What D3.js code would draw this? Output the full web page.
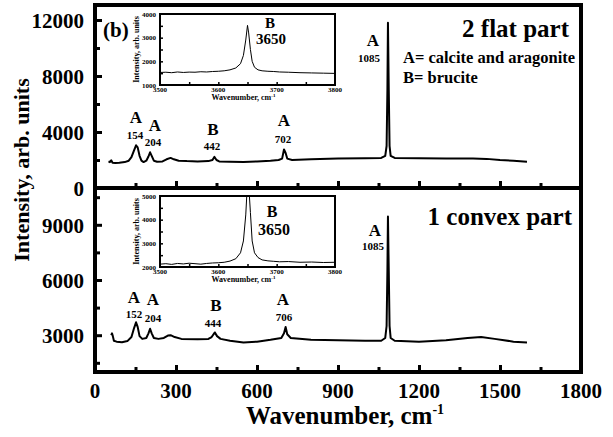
<!DOCTYPE html>
<html><head><meta charset="utf-8">
<script src="https://cdn.jsdelivr.net/npm/d3@7"></script>
<style>body{margin:0;background:#fff}svg{display:block}</style>
</head><body><svg id="c" width="613" height="437"></svg>
<script>
// ---------- data ----------
const topWavenumber = [50,55,60,65,75,90,110,125,135,145,152,158,165,172,180,190,198,204,210,218,230,250,265,280,292,310,340,380,420,435,442,450,460,500,550,600,650,680,693,700,706,712,730,800,900,1000,1060,1075,1080,1083,1085,1088,1091,1095,1110,1200,1300,1400,1450,1500,1550,1600];
const topIntensity  = [1900,1850,1980,1800,1780,1800,1850,1950,2200,2700,3050,2900,2300,1950,1850,1950,2250,2550,2300,1950,1880,1900,2050,2150,2050,1950,1920,1900,1920,2000,2220,2000,1900,1880,1850,1900,1950,2000,2100,2750,2500,2100,2000,2050,2100,2120,2150,2300,3000,7000,11800,7000,3000,2300,2150,2130,2100,2100,2080,2000,1950,1880];
const botWavenumber = [60,63,66,70,80,100,120,135,145,152,158,165,175,190,198,204,210,218,235,255,270,280,295,320,380,420,432,444,452,465,500,550,600,650,690,700,706,712,725,800,900,1000,1060,1075,1080,1083,1085,1088,1091,1095,1110,1200,1300,1380,1430,1480,1550,1600];
const botIntensity  = [3000,3100,2950,2700,2650,2620,2680,2900,3400,3700,3450,2950,2800,2850,3100,3350,3100,2850,2800,2850,2980,3000,2900,2800,2780,2800,2900,3150,2950,2800,2700,2600,2650,2750,2850,3100,3450,3050,2850,2750,2720,2700,2700,2850,3500,6500,9450,6500,3500,2850,2700,2650,2720,2850,2900,2800,2650,2600];
const insetTopWavenumber = [3500,3510,3520,3530,3540,3550,3560,3570,3580,3590,3600,3610,3620,3630,3638,3643,3647,3650,3652,3655,3658,3662,3668,3675,3685,3695,3705,3720,3740,3760,3780,3800];
const insetTopIntensity  = [1530,1540,1520,1550,1530,1545,1540,1560,1550,1570,1580,1600,1640,1720,1900,2250,2900,3520,3200,2500,2000,1750,1640,1600,1580,1570,1550,1540,1520,1510,1500,1490];
const insetBotWavenumber = [3500,3510,3520,3530,3540,3550,3560,3570,3580,3590,3600,3610,3620,3630,3638,3643,3647,3650,3652,3655,3658,3662,3668,3675,3685,3695,3705,3720,3740,3760,3780,3800];
const insetBotIntensity  = [2120,2140,2110,2150,2130,2160,2140,2120,2150,2170,2180,2200,2250,2350,2600,3100,4200,5600,5500,4300,3100,2600,2400,2300,2260,2240,2220,2230,2200,2210,2190,2200];
const xTicksMain = [0,300,600,900,1200,1500,1800];
const yTicksTop = [0,4000,8000,12000];
const yTicksBot = [3000,6000,9000];
const insetXTicks = [3500,3600,3700,3800];
const insetTopYTicks = [1000,2000,3000,4000];
const insetBotYTicks = [2000,3000,4000,5000];
const topLabels = [{t:"A",n:"154",w:154},{t:"A",n:"204",w:204},{t:"B",n:"442",w:442},{t:"A",n:"702",w:702},{t:"A",n:"1085",w:1085}];
const botLabels = [{t:"A",n:"152",w:152},{t:"A",n:"204",w:204},{t:"B",n:"444",w:444},{t:"A",n:"706",w:706},{t:"A",n:"1085",w:1085}];

// ---------- layout ----------
const svg = d3.select("#c");
const L=95, R=581, T=5, MID=188, B=372;
const x = d3.scaleLinear().domain([0,1800]).range([L,R]);
const yTop = d3.scaleLinear().domain([0,13070]).range([MID,T]);
const yBot = d3.scaleLinear().domain([1000,11000]).range([B,MID]);
const fmt = d3.format("d");

function ticksStyle(g, w){ g.select(".domain").remove(); g.selectAll("line").attr("stroke","#000").attr("stroke-width",w); }

// x ticks (both panels)
[[MID,false],[B,true]].forEach(([yy,lab])=>{
  const major = svg.append("g").attr("transform",`translate(0,${yy})`)
    .call(d3.axisBottom(x).tickValues(xTicksMain.slice(1,-1)).tickSizeInner(-7).tickSizeOuter(0).tickFormat(""));
  ticksStyle(major,3);
  const minor = svg.append("g").attr("transform",`translate(0,${yy})`)
    .call(d3.axisBottom(x).tickValues(xTicksMain.slice(0,-1).map(v=>v+150)).tickSizeInner(-5).tickSizeOuter(0).tickFormat(""));
  ticksStyle(minor,3);
  if(lab){
    svg.append("g").selectAll("text").data(xTicksMain).join("text")
      .attr("x",d=>x(d)).attr("y",398).attr("text-anchor","middle").style("font-size","21px").text(d=>fmt(d));
  }
});
// y ticks
function yAxis(scale, major, minorVals){
  const g = svg.append("g").attr("transform",`translate(${L},0)`)
    .call(d3.axisLeft(scale).tickValues(major).tickFormat(fmt).tickSizeInner(-7).tickSizeOuter(0).tickPadding(11));
  ticksStyle(g,3);
  g.selectAll("text").style("font-size","21px").attr("dy","0.35em");
  const m = svg.append("g").attr("transform",`translate(${L},0)`)
    .call(d3.axisLeft(scale).tickValues(minorVals).tickSizeInner(-5).tickSizeOuter(0).tickFormat(""));
  ticksStyle(m,3);
}
yAxis(yTop, yTicksTop, [2000,6000,10000]);
yAxis(yBot, yTicksBot, [1500,4500,7500,10500]);

// spectra
const lineTop = d3.line().x((d,i)=>x(topWavenumber[i])).y(d=>yTop(d));
const lineBot = d3.line().x((d,i)=>x(botWavenumber[i])).y(d=>yBot(d));
svg.append("path").attr("d",lineTop(topIntensity)).attr("fill","none").attr("stroke","#000").attr("stroke-width",2).attr("stroke-linejoin","round");
svg.append("path").attr("d",lineBot(botIntensity)).attr("fill","none").attr("stroke","#000").attr("stroke-width",2).attr("stroke-linejoin","round");

// frame
svg.append("rect").attr("x",L).attr("y",T).attr("width",R-L).attr("height",B-T).attr("fill","none").attr("stroke","#000").attr("stroke-width",4);
svg.append("line").attr("x1",L).attr("x2",R).attr("y1",MID).attr("y2",MID).attr("stroke","#000").attr("stroke-width",4);

// axis titles
svg.append("text").attr("transform","translate(29,170) rotate(-90)").attr("text-anchor","middle").style("font-size","22px").text("Intensity, arb. units");
const xt = svg.append("text").attr("x",345).attr("y",424).attr("text-anchor","middle").style("font-size","25px");
xt.append("tspan").text("Wavenumber, cm");
xt.append("tspan").attr("dy",-10).style("font-size","14px").text("-1");

// peak labels
const topPos = {154:[136,123,135,139],204:[155,131,153,146],442:[213,135,212,150],702:[284,126,283,143],1085:[373,46,369,62]};
const botPos = {152:[134,303,134,318],204:[153,305,153,322],444:[216,311,213,327],706:[283,305,284,321],1085:[375,236,373,250]};
function peakLabels(data,pos){
  data.forEach(d=>{
    const p = pos[d.w];
    svg.append("text").attr("x",p[0]).attr("y",p[1]).attr("text-anchor","middle").style("font-size","17px").text(d.t);
    svg.append("text").attr("x",p[2]).attr("y",p[3]).attr("text-anchor","middle").style("font-size","11px").text(d.n);
  });
}
peakLabels(topLabels,topPos);
peakLabels(botLabels,botPos);

// annotations
svg.append("text").attr("x",103).attr("y",37).style("font-size","21px").text("(b)");
svg.append("text").attr("x",569).attr("y",37).attr("text-anchor","end").style("font-size","25px").text("2 flat part");
svg.append("text").attr("x",403).attr("y",63).style("font-size","16.5px").text("A= calcite and aragonite");
svg.append("text").attr("x",403).attr("y",83).style("font-size","16.5px").text("B= brucite");
svg.append("text").attr("x",572).attr("y",225).attr("text-anchor","end").style("font-size","25px").text("1 convex part");

// insets
function inset(top,bottom,yDomain,yTicks,wn,inten,bLab){
  const il=160, ir=335;
  const xi = d3.scaleLinear().domain([3500,3800]).range([il,ir]);
  const yi = d3.scaleLinear().domain(yDomain).range([bottom,top]);
  const g = svg.append("g");
  g.append("rect").attr("x",il).attr("y",top).attr("width",ir-il).attr("height",bottom-top).attr("fill","#fff");
  const id = "clip"+top;
  svg.append("clipPath").attr("id",id).append("rect").attr("x",il).attr("y",top).attr("width",ir-il).attr("height",bottom-top);
  const ln = d3.line().x((d,i)=>xi(wn[i])).y(d=>yi(d));
  g.append("path").attr("d",ln(inten)).attr("clip-path",`url(#${id})`).attr("fill","none").attr("stroke","#000").attr("stroke-width",1);
  const ax = g.append("g").attr("transform",`translate(0,${bottom})`)
    .call(d3.axisBottom(xi).tickValues([3550,3600,3650,3700,3750]).tickSizeInner(-3).tickSizeOuter(0).tickFormat(""));
  ticksStyle(ax,1.5);
  const ay = g.append("g").attr("transform",`translate(${il},0)`)
    .call(d3.axisLeft(yi).tickValues([yDomain[0]+500,yDomain[0]+1000,yDomain[0]+1500,yDomain[0]+2000,yDomain[0]+2500]).tickSizeInner(-3).tickSizeOuter(0).tickFormat(""));
  ticksStyle(ay,1.5);
  g.append("rect").attr("x",il).attr("y",top).attr("width",ir-il).attr("height",bottom-top).attr("fill","none").attr("stroke","#000").attr("stroke-width",2);
  g.selectAll(".xl").data(insetXTicks).join("text").attr("x",d=>xi(d)).attr("y",bottom+7).attr("text-anchor","middle").style("font-size","7px").text(d=>d);
  g.selectAll(".yl").data(yTicks).join("text").attr("x",il-4).attr("y",d=>yi(d)+2.5).attr("text-anchor","end").style("font-size","7px").text(d=>d);
  const t = g.append("text").attr("x",(il+ir)/2 - 4).attr("y",bottom+15).attr("text-anchor","middle").style("font-size","8px");
  t.append("tspan").text("Wavenumber, cm"); t.append("tspan").attr("dy",-3).style("font-size","5px").text("-1");
  g.append("text").attr("transform",`translate(139,${(top+bottom)/2}) rotate(-90)`).attr("text-anchor","middle").style("font-size","8px").text("Intensity, arb. units");
  g.append("text").attr("x",bLab[0]).attr("y",bLab[1]).attr("text-anchor","middle").style("font-size",bLab[4]+"px").text("B");
  g.append("text").attr("x",bLab[2]).attr("y",bLab[3]).attr("text-anchor","middle").style("font-size",bLab[4]+"px").text("3650");
}
inset(14,85,[1000,4000],insetTopYTicks,insetTopWavenumber,insetTopIntensity,[270,28,271,44,15]);
inset(196,267,[2000,5000],insetBotYTicks,insetBotWavenumber,insetBotIntensity,[272,217,274,235,16]);

svg.selectAll("text").style("font-family","'Liberation Serif'").style("font-weight","bold").style("fill","#000");
</script></body></html>
